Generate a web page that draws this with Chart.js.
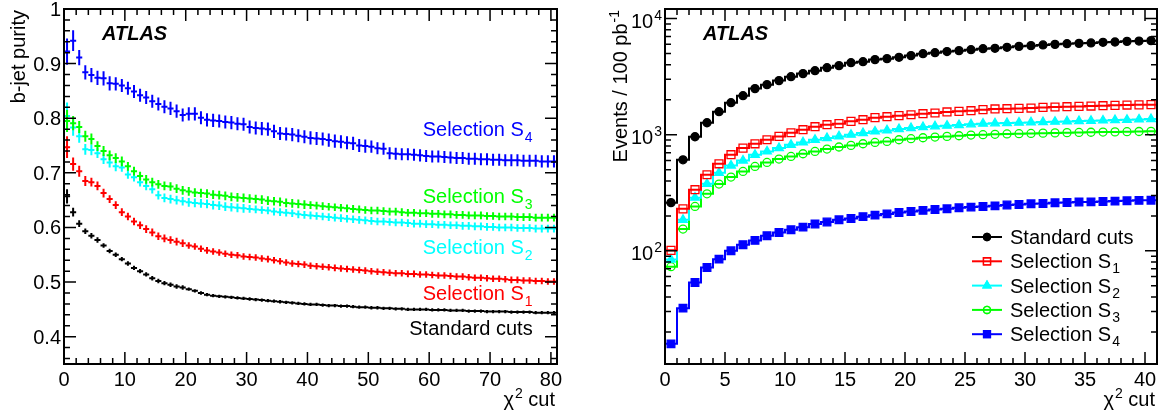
<!DOCTYPE html>
<html>
<head>
<meta charset="utf-8">
<script src="https://cdn.jsdelivr.net/npm/chart.js@4.4.1/dist/chart.umd.min.js"></script>
<style>
  body { margin: 0; background: #fff; }
  .wrap { display: flex; width: 1166px; height: 415px; }
  canvas { display: block; }
</style>
</head>
<body>
<div class="wrap">
  <canvas id="purityChart" width="583" height="415"></canvas>
  <canvas id="eventsChart" width="583" height="415"></canvas>
</div>
<script>
// ---- data ----
const seriesMain = ['Standard cuts', 'Selection S', 'Selection S', 'Selection S', 'Selection S'];
const seriesSub = ['', '1', '2', '3', '4'];
const seriesColors = ['#000000', '#ff0000', '#00ffff', '#00ff00', '#0000ff'];

// left panel: b-jet purity, one point per unit bin of the chi2 cut (0.5 ... 80.5)
const purityBins = Array.from({ length: 81 }, (_, i) => i + 0.5);

const purityStd = [
  0.657, 0.628, 0.607, 0.593, 0.585, 0.577, 0.567, 0.557, 0.550, 0.542,
  0.534, 0.526, 0.520, 0.514, 0.507, 0.502, 0.498, 0.495, 0.492, 0.490,
  0.487, 0.484, 0.480, 0.477, 0.475, 0.474, 0.473, 0.472, 0.471, 0.470,
  0.469, 0.468, 0.467, 0.466, 0.465, 0.464, 0.463, 0.462, 0.461, 0.460,
  0.459, 0.459, 0.458, 0.457, 0.457, 0.456, 0.456, 0.455, 0.454, 0.454,
  0.453, 0.453, 0.452, 0.452, 0.451, 0.451, 0.450, 0.450, 0.450, 0.450,
  0.449, 0.449, 0.449, 0.448, 0.448, 0.448, 0.447, 0.447, 0.447, 0.446,
  0.446, 0.446, 0.446, 0.445, 0.445, 0.445, 0.445, 0.444, 0.444, 0.444,
  0.444];
const purityS1 = [
  0.747, 0.716, 0.703, 0.685, 0.683, 0.676, 0.663, 0.652, 0.641, 0.628,
  0.620, 0.611, 0.604, 0.597, 0.591, 0.584, 0.580, 0.577, 0.574, 0.571,
  0.567, 0.565, 0.561, 0.558, 0.556, 0.554, 0.552, 0.550, 0.549, 0.547,
  0.546, 0.545, 0.543, 0.542, 0.540, 0.538, 0.536, 0.534, 0.533, 0.532,
  0.530, 0.529, 0.528, 0.527, 0.526, 0.525, 0.524, 0.523, 0.522, 0.521,
  0.520, 0.519, 0.518, 0.517, 0.516, 0.516, 0.515, 0.515, 0.514, 0.514,
  0.513, 0.512, 0.512, 0.511, 0.510, 0.510, 0.509, 0.508, 0.508, 0.507,
  0.506, 0.506, 0.505, 0.504, 0.504, 0.503, 0.503, 0.502, 0.502, 0.501,
  0.501];
const purityS2 = [
  0.804, 0.783, 0.767, 0.743, 0.742, 0.736, 0.725, 0.719, 0.712, 0.710,
  0.697, 0.692, 0.683, 0.676, 0.670, 0.659, 0.654, 0.652, 0.650, 0.648,
  0.646, 0.645, 0.644, 0.643, 0.641, 0.640, 0.638, 0.637, 0.636, 0.635,
  0.634, 0.633, 0.632, 0.631, 0.629, 0.628, 0.627, 0.626, 0.624, 0.623,
  0.622, 0.621, 0.620, 0.619, 0.618, 0.617, 0.616, 0.615, 0.614, 0.613,
  0.612, 0.611, 0.611, 0.610, 0.609, 0.609, 0.608, 0.607, 0.607, 0.606,
  0.606, 0.605, 0.605, 0.604, 0.604, 0.603, 0.603, 0.602, 0.602, 0.601,
  0.601, 0.600, 0.600, 0.600, 0.599, 0.599, 0.599, 0.598, 0.598, 0.598,
  0.598];
const purityS3 = [
  0.795, 0.791, 0.784, 0.767, 0.762, 0.749, 0.740, 0.732, 0.727, 0.721,
  0.712, 0.703, 0.694, 0.688, 0.683, 0.679, 0.676, 0.675, 0.671, 0.668,
  0.666, 0.664, 0.663, 0.662, 0.660, 0.659, 0.658, 0.656, 0.655, 0.654,
  0.653, 0.652, 0.651, 0.649, 0.648, 0.647, 0.645, 0.644, 0.643, 0.642,
  0.641, 0.640, 0.639, 0.638, 0.637, 0.636, 0.635, 0.634, 0.633, 0.632,
  0.631, 0.631, 0.630, 0.629, 0.629, 0.628, 0.627, 0.627, 0.626, 0.626,
  0.625, 0.625, 0.624, 0.624, 0.623, 0.623, 0.622, 0.622, 0.622, 0.621,
  0.621, 0.620, 0.620, 0.620, 0.619, 0.619, 0.619, 0.618, 0.618, 0.618,
  0.618];
const purityS4 = [
  0.922, 0.942, 0.911, 0.884, 0.879, 0.874, 0.873, 0.864, 0.863, 0.860,
  0.855, 0.849, 0.842, 0.838, 0.831, 0.826, 0.821, 0.818, 0.813, 0.806,
  0.808, 0.808, 0.801, 0.797, 0.796, 0.795, 0.793, 0.792, 0.790, 0.789,
  0.784, 0.782, 0.781, 0.780, 0.776, 0.772, 0.771, 0.770, 0.768, 0.766,
  0.764, 0.763, 0.762, 0.760, 0.758, 0.757, 0.755, 0.754, 0.750, 0.749,
  0.748, 0.745, 0.744, 0.736, 0.735, 0.734, 0.734, 0.733, 0.732, 0.731,
  0.730, 0.730, 0.729, 0.728, 0.727, 0.727, 0.726, 0.726, 0.725, 0.725,
  0.724, 0.724, 0.723, 0.723, 0.723, 0.722, 0.722, 0.722, 0.721, 0.721,
  0.721];

// statistical errors on the purity
const errStd = [
  0.013, 0.008, 0.006, 0.005, 0.005, 0.005, 0.004, 0.004, 0.004, 0.004,
  0.004, 0.004, 0.004, 0.004, 0.004, 0.004, 0.004, 0.004, 0.004, 0.004,
  0.003, 0.003, 0.003, 0.003, 0.003, 0.003, 0.003, 0.003, 0.003, 0.003,
  0.003, 0.003, 0.003, 0.003, 0.003, 0.003, 0.003, 0.003, 0.003, 0.003,
  0.003, 0.003, 0.003, 0.003, 0.003, 0.003, 0.003, 0.003, 0.003, 0.003,
  0.003, 0.003, 0.003, 0.003, 0.003, 0.003, 0.003, 0.003, 0.003, 0.003,
  0.003, 0.003, 0.003, 0.003, 0.003, 0.003, 0.003, 0.003, 0.003, 0.003,
  0.003, 0.003, 0.003, 0.003, 0.003, 0.003, 0.003, 0.003, 0.003, 0.003,
  0.003];
const errS1 = [
  0.020, 0.012, 0.010, 0.009, 0.008, 0.008, 0.008, 0.007, 0.007, 0.007,
  0.007, 0.007, 0.007, 0.007, 0.007, 0.007, 0.007, 0.007, 0.007, 0.007,
  0.006, 0.006, 0.006, 0.006, 0.006, 0.006, 0.006, 0.006, 0.006, 0.006,
  0.006, 0.006, 0.006, 0.006, 0.006, 0.006, 0.006, 0.006, 0.006, 0.006,
  0.006, 0.006, 0.006, 0.006, 0.006, 0.006, 0.006, 0.006, 0.006, 0.006,
  0.006, 0.006, 0.006, 0.006, 0.006, 0.006, 0.006, 0.006, 0.006, 0.006,
  0.006, 0.006, 0.006, 0.006, 0.006, 0.006, 0.006, 0.006, 0.006, 0.006,
  0.006, 0.006, 0.006, 0.006, 0.006, 0.006, 0.006, 0.006, 0.006, 0.006,
  0.006];
const errS2 = [
  0.025, 0.015, 0.012, 0.010, 0.010, 0.009, 0.009, 0.009, 0.009, 0.008,
  0.008, 0.008, 0.008, 0.008, 0.008, 0.008, 0.008, 0.008, 0.008, 0.008,
  0.008, 0.008, 0.008, 0.008, 0.008, 0.008, 0.008, 0.008, 0.008, 0.008,
  0.007, 0.007, 0.007, 0.007, 0.007, 0.007, 0.007, 0.007, 0.007, 0.007,
  0.007, 0.007, 0.007, 0.007, 0.007, 0.007, 0.007, 0.007, 0.007, 0.007,
  0.007, 0.007, 0.007, 0.007, 0.007, 0.007, 0.007, 0.007, 0.007, 0.007,
  0.007, 0.007, 0.007, 0.007, 0.007, 0.007, 0.007, 0.007, 0.007, 0.007,
  0.007, 0.007, 0.007, 0.007, 0.007, 0.007, 0.007, 0.007, 0.007, 0.007,
  0.007];
const errS3 = [
  0.020, 0.013, 0.011, 0.010, 0.010, 0.009, 0.009, 0.009, 0.009, 0.009,
  0.008, 0.008, 0.008, 0.008, 0.008, 0.008, 0.008, 0.008, 0.008, 0.008,
  0.008, 0.008, 0.008, 0.008, 0.008, 0.008, 0.008, 0.008, 0.008, 0.008,
  0.008, 0.008, 0.008, 0.008, 0.008, 0.008, 0.008, 0.008, 0.008, 0.008,
  0.007, 0.007, 0.007, 0.007, 0.007, 0.007, 0.007, 0.007, 0.007, 0.007,
  0.007, 0.007, 0.007, 0.007, 0.007, 0.007, 0.007, 0.007, 0.007, 0.007,
  0.007, 0.007, 0.007, 0.007, 0.007, 0.007, 0.007, 0.007, 0.007, 0.007,
  0.007, 0.007, 0.007, 0.007, 0.007, 0.007, 0.007, 0.007, 0.007, 0.007,
  0.007];
const errS4 = [
  0.024, 0.019, 0.014, 0.013, 0.013, 0.013, 0.013, 0.013, 0.012, 0.012,
  0.012, 0.012, 0.012, 0.012, 0.012, 0.012, 0.012, 0.012, 0.012, 0.012,
  0.012, 0.012, 0.012, 0.012, 0.012, 0.012, 0.012, 0.012, 0.012, 0.012,
  0.012, 0.012, 0.012, 0.012, 0.012, 0.012, 0.012, 0.012, 0.012, 0.012,
  0.012, 0.012, 0.012, 0.012, 0.012, 0.012, 0.012, 0.012, 0.012, 0.012,
  0.011, 0.011, 0.011, 0.011, 0.011, 0.011, 0.011, 0.011, 0.011, 0.011,
  0.011, 0.011, 0.011, 0.011, 0.011, 0.011, 0.011, 0.011, 0.011, 0.011,
  0.011, 0.011, 0.011, 0.011, 0.011, 0.011, 0.011, 0.011, 0.011, 0.011,
  0.011];

// right panel: events / 100 pb-1, one point per unit bin (0.5 ... 40.5)
const eventBins = Array.from({ length: 41 }, (_, i) => i + 0.5);

const eventsStd = [
  260, 608, 961, 1268, 1578, 1888, 2168, 2495, 2700, 2925,
  3160, 3360, 3560, 3780, 3935, 4170, 4255, 4435, 4520, 4640,
  4800, 4990, 5090, 5200, 5300, 5400, 5510, 5550, 5660, 5770,
  5850, 5930, 6000, 6080, 6120, 6170, 6250, 6290, 6370, 6410,
  6460];
const eventsS1 = [
  101, 230, 336, 452, 562, 673, 767, 835, 905, 967,
  1040, 1105, 1172, 1220, 1245, 1303, 1347, 1403, 1430, 1459,
  1486, 1517, 1538, 1570, 1589, 1610, 1644, 1667, 1675, 1686,
  1698, 1719, 1733, 1743, 1754, 1766, 1778, 1790, 1802, 1808,
  1815];
const eventsS2 = [
  84, 185, 287, 378, 470, 543, 600, 672, 718, 768,
  820, 859, 905, 936, 967, 1000, 1035, 1067, 1089, 1119,
  1142, 1165, 1180, 1196, 1212, 1228, 1245, 1253, 1262, 1270,
  1277, 1285, 1294, 1302, 1311, 1319, 1327, 1336, 1345, 1354,
  1363];
const eventsS3 = [
  73, 154, 241, 310, 376, 432, 483, 533, 577, 617,
  650, 686, 718, 753, 784, 809, 836, 858, 875, 905,
  924, 942, 955, 967, 980, 993, 1000, 1008, 1015, 1020,
  1026, 1032, 1037, 1042, 1046, 1050, 1054, 1058, 1062, 1066,
  1070];
const eventsS4 = [
  15.8, 32.1, 53.3, 71.8, 84.8, 100, 113, 123, 135, 144,
  152, 160, 170, 177, 185, 190, 197, 203, 208, 214,
  218, 223, 227, 230, 235, 238, 241, 244, 248, 251,
  254, 256, 259, 261, 263, 264, 266, 268, 270, 272,
  273];

// tick labels
const purityXTicks = [0, 10, 20, 30, 40, 50, 60, 70, 80];
const purityYTicks = [0.4, 0.5, 0.6, 0.7, 0.8, 0.9, 1];
const purityYLabels = ['0.4', '0.5', '0.6', '0.7', '0.8', '0.9', '1'];
const eventsXTicks = [0, 5, 10, 15, 20, 25, 30, 35, 40];
const eventsYTicks = [100, 1000, 10000];
const eventsYExp = ['2', '3', '4'];

// ---- drawing helpers ----
const FONT = '"Liberation Sans", Arial, Helvetica, sans-serif';

// main text + subscript, starting at xLeft
function subText(ctx, main, sub, xLeft, baseY, subDrop) {
  ctx.textAlign = 'left';
  ctx.textBaseline = 'alphabetic';
  ctx.font = '20px ' + FONT;
  ctx.fillText(main, xLeft, baseY);
  const mw = ctx.measureText(main).width;
  if (sub) {
    ctx.font = '14px ' + FONT;
    ctx.fillText(sub, xLeft + mw + 1, baseY + subDrop);
  }
}
function subTextWidth(ctx, main, sub) {
  ctx.font = '20px ' + FONT;
  let w = ctx.measureText(main).width;
  if (sub) {
    ctx.font = '14px ' + FONT;
    w += ctx.measureText(sub).width + 1;
  }
  return w;
}

function minorList(from, to, step) {
  const out = [];
  for (let v = from; v <= to + 1e-9; v += step) out.push(+v.toFixed(4));
  return out;
}

// frame, inward ticks on four sides, labels, titles
function makeFramePlugin(cfg) {
  return {
    id: 'frame_' + cfg.name,
    afterDraw(chart) {
      const { ctx, chartArea: a, scales: { x, y } } = chart;
      ctx.save();
      ctx.strokeStyle = '#000';
      ctx.lineWidth = 1.5;
      ctx.beginPath();
      const xt = (v, len) => {
        const p = x.getPixelForValue(v);
        ctx.moveTo(p, a.bottom); ctx.lineTo(p, a.bottom - len);
        ctx.moveTo(p, a.top); ctx.lineTo(p, a.top + len);
      };
      const yt = (v, len) => {
        const p = y.getPixelForValue(v);
        ctx.moveTo(a.left, p); ctx.lineTo(a.left + len, p);
        ctx.moveTo(a.right, p); ctx.lineTo(a.right - len, p);
      };
      cfg.xMinor.forEach(v => xt(v, 6));
      cfg.xMajor.forEach(v => xt(v, 12));
      cfg.yMinor.forEach(v => yt(v, 6));
      cfg.yMajor.forEach(v => yt(v, 12));
      ctx.stroke();
      ctx.lineWidth = 2;
      ctx.strokeRect(a.left, a.top, a.right - a.left, a.bottom - a.top);

      ctx.fillStyle = '#000';
      ctx.font = '20px ' + FONT;
      ctx.textAlign = 'center';
      ctx.textBaseline = 'alphabetic';
      cfg.xMajor.forEach(v => ctx.fillText(String(v), x.getPixelForValue(v), a.bottom + 22));

      cfg.yMajor.forEach((v, i) => {
        const p = y.getPixelForValue(v);
        if (cfg.yExp) {
          ctx.font = '14px ' + FONT;
          ctx.textAlign = 'right';
          const ew = ctx.measureText(cfg.yExp[i]).width;
          ctx.fillText(cfg.yExp[i], a.left - 3, p + 1);
          ctx.font = '20px ' + FONT;
          ctx.fillText('10', a.left - 4 - ew, p + 9);
        } else {
          ctx.font = '20px ' + FONT;
          ctx.textAlign = 'right';
          ctx.fillText(cfg.yLabels[i], a.left - 3, p + 7);
        }
      });

      // x title: chi^2 cut, right aligned on the frame
      ctx.font = '20px ' + FONT;
      const wCut = ctx.measureText(' cut').width;
      const wChi = ctx.measureText('\u03c7').width;
      ctx.font = '14px ' + FONT;
      const wTwo = ctx.measureText('2').width;
      let xr = a.right - 2;
      ctx.textAlign = 'right';
      ctx.font = '20px ' + FONT;
      ctx.fillText(' cut', xr, a.bottom + 42);
      xr -= wCut;
      ctx.font = '14px ' + FONT;
      ctx.fillText('2', xr, a.bottom + 34);
      xr -= wTwo + 1;
      ctx.font = '20px ' + FONT;
      ctx.fillText('\u03c7', xr, a.bottom + 42);

      // y title, rotated, ending at the top of the frame
      ctx.save();
      ctx.translate(cfg.yTitleX, a.top + 1);
      ctx.rotate(-Math.PI / 2);
      ctx.textAlign = 'right';
      let off = 0;
      if (cfg.yTitleSup) {
        ctx.font = '14px ' + FONT;
        ctx.fillText(cfg.yTitleSup, 0, -8);
        off = ctx.measureText(cfg.yTitleSup).width + 1;
      }
      ctx.font = '20px ' + FONT;
      ctx.fillText(cfg.yTitle, -off, 0);
      ctx.restore();

      // ATLAS
      ctx.font = 'italic bold 20px ' + FONT;
      ctx.textAlign = 'left';
      ctx.fillText('ATLAS', a.left + 38, a.top + 31);
      ctx.restore();
    }
  };
}

// left panel: error crosses from the data and the per-series labels
const crossPlugin = {
  id: 'crosses',
  afterDatasetsDraw(chart) {
    const { ctx, chartArea: a, scales: { x, y } } = chart;
    ctx.save();
    ctx.beginPath();
    ctx.rect(a.left, a.top, a.right - a.left, a.bottom - a.top);
    ctx.clip();
    ctx.lineWidth = 2;
    chart.data.datasets.forEach(ds => {
      ctx.strokeStyle = ds.borderColor;
      ctx.beginPath();
      ds.data.forEach((p, j) => {
        const e = ds.errors[j];
        const px = x.getPixelForValue(p.x);
        const py = y.getPixelForValue(p.y);
        ctx.moveTo(x.getPixelForValue(p.x - 0.5), py);
        ctx.lineTo(x.getPixelForValue(p.x + 0.5), py);
        ctx.moveTo(px, y.getPixelForValue(p.y + e));
        ctx.lineTo(px, y.getPixelForValue(p.y - e));
      });
      ctx.stroke();
    });
    ctx.restore();

    // text labels next to the curves (data coordinates)
    const labelY = [0.404, 0.468, 0.552, 0.644, 0.767];
    ctx.save();
    seriesMain.forEach((m, i) => {
      ctx.fillStyle = seriesColors[i];
      const w = subTextWidth(ctx, m, seriesSub[i]);
      subText(ctx, m, seriesSub[i], x.getPixelForValue(77) - w, y.getPixelForValue(labelY[i]), 6);
    });
    ctx.restore();
  }
};

// right panel: half-bin end caps of the step histograms and the legend
const markerStyles = [
  { pointStyle: 'circle', radius: 4, fill: '#000000' },
  { pointStyle: 'rect', radius: 5.6, fill: 'rgba(0,0,0,0)' },
  { pointStyle: 'triangle', radius: 5, fill: '#00ffff' },
  { pointStyle: 'circle', radius: 4, fill: 'rgba(0,0,0,0)' },
  { pointStyle: 'rect', radius: 5.4, fill: '#0000ff' }
];

const histPlugin = {
  id: 'histCaps',
  beforeDatasetsDraw(chart) {
    const { ctx, scales: { x, y } } = chart;
    ctx.save();
    ctx.lineWidth = 2;
    chart.data.datasets.forEach(ds => {
      const first = ds.data[0], last = ds.data[ds.data.length - 1];
      ctx.strokeStyle = ds.borderColor;
      ctx.beginPath();
      ctx.moveTo(x.getPixelForValue(first.x - 0.5), y.getPixelForValue(first.y));
      ctx.lineTo(x.getPixelForValue(first.x), y.getPixelForValue(first.y));
      ctx.moveTo(x.getPixelForValue(last.x), y.getPixelForValue(last.y));
      ctx.lineTo(x.getPixelForValue(last.x + 0.5), y.getPixelForValue(last.y));
      ctx.stroke();
    });
    ctx.restore();
  },
  afterDraw(chart) {
    const { ctx, chartArea: a } = chart;
    ctx.save();
    const x0 = a.right - 185, textX = a.right - 147;
    seriesMain.forEach((m, i) => {
      const yc = a.top + 228 + i * 24.3;
      ctx.strokeStyle = seriesColors[i];
      ctx.lineWidth = 2;
      ctx.beginPath();
      ctx.moveTo(x0, yc);
      ctx.lineTo(x0 + 30, yc);
      ctx.stroke();
      ctx.lineWidth = 1.3;
      ctx.fillStyle = markerStyles[i].fill;
      Chart.helpers.drawPoint(ctx, {
        pointStyle: markerStyles[i].pointStyle,
        radius: markerStyles[i].radius * 0.9,
        rotation: 0,
        borderWidth: 1.3
      }, x0 + 15, yc);
      ctx.fill();
      ctx.stroke();
      ctx.fillStyle = '#000';
      subText(ctx, m, seriesSub[i], textX, yc + 7, 5);
    });
    ctx.restore();
  }
};

// ---- left chart: b-jet purity ----
const purityValues = [purityStd, purityS1, purityS2, purityS3, purityS4];
const purityErrors = [errStd, errS1, errS2, errS3, errS4];

new Chart(document.getElementById('purityChart'), {
  type: 'scatter',
  data: {
    datasets: purityValues.map((vals, i) => ({
      label: seriesMain[i] + seriesSub[i],
      data: purityBins.map((b, j) => ({ x: b, y: vals[j] })),
      errors: purityErrors[i],
      borderColor: seriesColors[i],
      backgroundColor: seriesColors[i],
      pointRadius: 0,
      showLine: false
    }))
  },
  options: {
    responsive: false,
    animation: false,
    events: [],
    layout: { padding: { left: 64, right: 26, top: 9, bottom: 51 } },
    plugins: { legend: { display: false }, tooltip: { enabled: false } },
    scales: {
      x: { type: 'linear', min: 0, max: 81, display: false },
      y: { type: 'linear', min: 0.35, max: 1.0, display: false }
    }
  },
  plugins: [crossPlugin, makeFramePlugin({
    name: 'purity',
    xMajor: purityXTicks, xMinor: minorList(0, 81, 2),
    yMajor: purityYTicks, yMinor: minorList(0.36, 1.0, 0.02),
    yLabels: purityYLabels,
    yTitle: 'b-jet purity', yTitleX: 25
  })]
});

// ---- right chart: events / 100 pb-1 ----
const eventValues = [eventsStd, eventsS1, eventsS2, eventsS3, eventsS4];
const logMinor = [];
[10, 100, 1000, 10000].forEach(d => { for (let m = 2; m <= 9; m++) logMinor.push(m * d); });

new Chart(document.getElementById('eventsChart'), {
  type: 'line',
  data: {
    datasets: eventValues.map((vals, i) => ({
      label: seriesMain[i] + seriesSub[i],
      data: eventBins.map((b, j) => ({ x: b, y: vals[j] })),
      stepped: 'middle',
      borderColor: seriesColors[i],
      borderWidth: 2,
      backgroundColor: markerStyles[i].fill,
      pointStyle: markerStyles[i].pointStyle,
      pointRadius: markerStyles[i].radius,
      pointBackgroundColor: markerStyles[i].fill,
      pointBorderColor: seriesColors[i],
      pointBorderWidth: 1.3,
      fill: false
    }))
  },
  options: {
    responsive: false,
    animation: false,
    events: [],
    layout: { padding: { left: 82, right: 9, top: 9, bottom: 51 } },
    plugins: { legend: { display: false }, tooltip: { enabled: false } },
    scales: {
      x: { type: 'linear', min: 0, max: 41, display: false },
      y: { type: 'logarithmic', min: 10.6, max: 12100, display: false }
    }
  },
  plugins: [histPlugin, makeFramePlugin({
    name: 'events',
    xMajor: eventsXTicks, xMinor: minorList(0, 41, 1),
    yMajor: eventsYTicks, yMinor: logMinor.filter(v => v > 10.6 && v < 12100),
    yExp: eventsYExp,
    yTitle: 'Events / 100 pb', yTitleSup: '-1', yTitleX: 44
  })]
});
</script>
</body>
</html>
